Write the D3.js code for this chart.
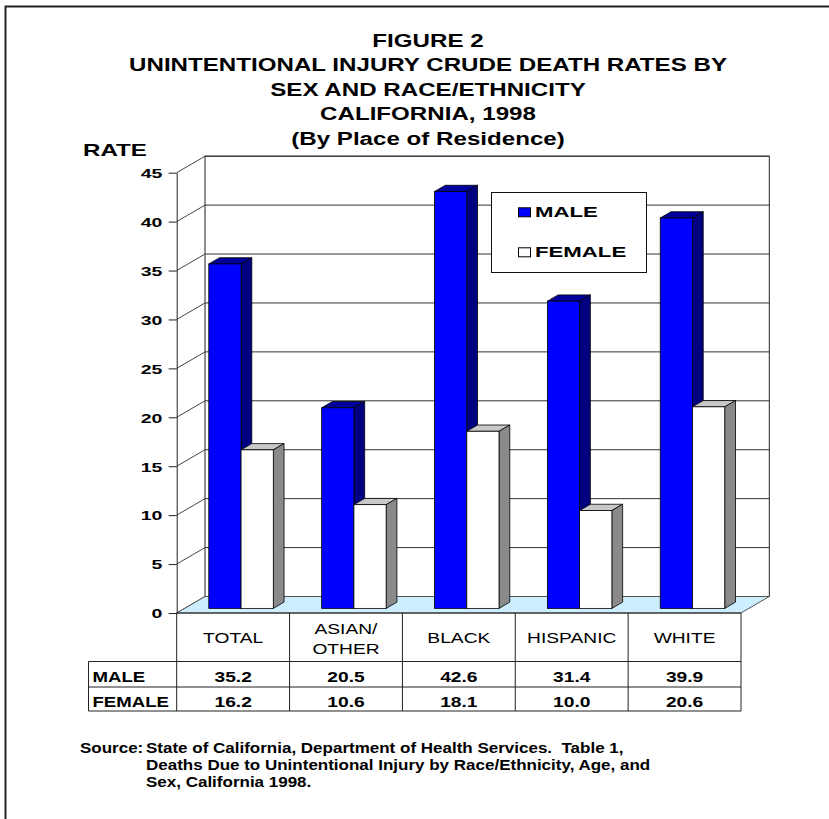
<!DOCTYPE html>
<html>
<head>
<meta charset="utf-8">
<script src="https://cdn.jsdelivr.net/npm/d3@7"></script>
<style>
body { margin: 0; background: #fff; }
svg { display: block; font-family: "Liberation Sans", Arial, Helvetica, sans-serif; }
</style>
</head>
<body>
<svg id="chart" width="829" height="819"></svg>
<script>
var titleLines = ["FIGURE 2", "UNINTENTIONAL INJURY CRUDE DEATH RATES BY", "SEX AND RACE/ETHNICITY", "CALIFORNIA, 1998", "(By Place of Residence)"]
var categories = ["TOTAL", "ASIAN/OTHER", "BLACK", "HISPANIC", "WHITE"]
var categoryLabels = [["TOTAL"], ["ASIAN/", "OTHER"], ["BLACK"], ["HISPANIC"], ["WHITE"]]
var series = ["MALE", "FEMALE"]
var maleRates = [35.2, 20.5, 42.6, 31.4, 39.9]
var femaleRates = [16.2, 10.6, 18.1, 10.0, 20.6]
var yTicks = [0, 5, 10, 15, 20, 25, 30, 35, 40, 45]
var sourceLabel = "Source:"
var sourceLines = ["State of California, Department of Health Services.  Table 1,", "Deaths Due to Unintentional Injury by Race/Ethnicity, Age, and", "Sex, California 1998."]

var ratesBySeries = { MALE: maleRates, FEMALE: femaleRates }
var seriesColors = {
    MALE: { front: "#0000FF", side: "#000080", top: "#00009C" },
    FEMALE: { front: "#FFFFFF", side: "#8A8A8A", top: "#C8C8C8" }
}

// layout of the pseudo 3d plot
var frontLeft = 176.7, frontRight = 741
var depthX = 28.3, depthY = 16.5
var barFront = 0.28, barBack = 0.66
var tableRowLeft = 88.5
var tableLines = [661.5, 687, 711]

var svg = d3.select("#chart")

var x = d3.scaleBand().domain(categories).range([frontLeft, frontRight])
var y = d3.scaleLinear().domain([0, 45]).range([613, 172.7])
var sub = d3.scaleBand().domain(series).range([0, x.bandwidth()]).paddingInner(0).paddingOuter(0.75)

function addText(parent, str, px, py, size, weight, anchor) {
    return parent.append("text")
        .attr("transform", "translate(" + px + "," + py + ")")
        .attr("font-size", size)
        .attr("font-weight", weight)
        .attr("text-anchor", anchor)
        .style("white-space", "pre")
        .text(str)
}

function stretch(sel, sx) {
    sel.each(function () {
        var t = d3.select(this)
        t.attr("transform", t.attr("transform") + " scale(" + sx + ",1)")
    })
}

function factorFor(sel, targetWidth) {
    return targetWidth / sel.node().getComputedTextLength()
}

function points(list) {
    return list.map(function (p) { return p.join(",") }).join(" ")
}

// frame
svg.append("rect")
    .attr("x", 5.5).attr("y", 6.5)
    .attr("width", 900).attr("height", 900)
    .attr("fill", "none")
    .attr("stroke", "#222")
    .attr("stroke-width", 2)

// walls and floor
var wallLeft = frontLeft + depthX, wallRight = frontRight + depthX
var plot = svg.append("g")

plot.append("rect")
    .attr("x", wallLeft).attr("y", y(45) - depthY)
    .attr("width", wallRight - wallLeft).attr("height", y(0) - y(45))
    .attr("fill", "#fff")
    .attr("stroke", "#222")

plot.selectAll(".grid").data(yTicks).join("line")
    .attr("class", "grid")
    .attr("x1", wallLeft).attr("x2", wallRight)
    .attr("y1", function (d) { return y(d) - depthY })
    .attr("y2", function (d) { return y(d) - depthY })
    .attr("stroke", "#333")

plot.selectAll(".side-grid").data(yTicks).join("line")
    .attr("class", "side-grid")
    .attr("x1", frontLeft).attr("y1", function (d) { return y(d) })
    .attr("x2", wallLeft).attr("y2", function (d) { return y(d) - depthY })
    .attr("stroke", "#444")

plot.append("polygon")
    .attr("points", points([[frontLeft, y(0)], [wallLeft, y(0) - depthY], [wallRight, y(0) - depthY], [frontRight, y(0)]]))
    .attr("fill", "#CCEEFF")
    .attr("stroke", "#555")

// y axis
var axis = plot.append("g")
    .attr("transform", "translate(" + frontLeft + ",0)")
    .call(d3.axisLeft(y).tickValues(yTicks).tickSize(8).tickSizeOuter(0))
axis.select(".domain").attr("stroke", "#222")
axis.selectAll(".tick line").attr("stroke", "#222")
axis.selectAll(".tick text")
    .attr("x", null).attr("dy", null)
    .attr("transform", "translate(-14.3,4.8) scale(1.5,1)")
    .attr("font-family", null)
    .attr("font-size", 13)
    .attr("font-weight", "bold")
    .attr("fill", "#000")

// bars
var barData = []
categories.forEach(function (c, i) {
    series.forEach(function (s) {
        barData.push({ category: c, series: s, value: ratesBySeries[s][i] })
    })
})

var ddx = (barBack - barFront) * depthX, ddy = (barBack - barFront) * depthY
var bars = plot.selectAll(".bar").data(barData).join("g").attr("class", "bar")

bars.each(function (d) {
    var g = d3.select(this)
    var bx = x(d.category) + sub(d.series) + barFront * depthX
    var w = sub.bandwidth()
    var base = y(0) - barFront * depthY
    var top = y(d.value) - barFront * depthY
    var col = seriesColors[d.series]

    g.append("polygon")
        .attr("points", points([[bx, top], [bx + ddx, top - ddy], [bx + w + ddx, top - ddy], [bx + w, top]]))
        .attr("fill", col.top).attr("stroke", "#000").attr("stroke-width", 0.8)
    g.append("polygon")
        .attr("points", points([[bx + w, top], [bx + w + ddx, top - ddy], [bx + w + ddx, base - ddy], [bx + w, base]]))
        .attr("fill", col.side).attr("stroke", "#000").attr("stroke-width", 0.8)
    g.append("rect")
        .attr("x", bx).attr("y", top)
        .attr("width", w).attr("height", base - top)
        .attr("fill", col.front).attr("stroke", "#000").attr("stroke-width", 0.8)
})

// legend
var legend = svg.append("g")
legend.append("rect")
    .attr("x", 491.5).attr("y", 192.5)
    .attr("width", 155).attr("height", 80)
    .attr("fill", "#fff").attr("stroke", "#111")

series.forEach(function (s, i) {
    var ly = 217.3 + i * 40
    legend.append("rect")
        .attr("x", 518.5).attr("y", ly - 9.5)
        .attr("width", 12).attr("height", 9)
        .attr("fill", seriesColors[s].front)
        .attr("stroke", "#000")
    var t = addText(legend, s, 535, ly, 15, "bold", "start")
    stretch(t, 1.48)
})

// data table under the plot
var table = svg.append("g")
table.append("line")
    .attr("x1", frontLeft).attr("x2", frontRight)
    .attr("y1", y(0)).attr("y2", y(0))
    .attr("stroke", "#222")
tableLines.forEach(function (ly) {
    table.append("line")
        .attr("x1", tableRowLeft).attr("x2", frontRight)
        .attr("y1", ly).attr("y2", ly)
        .attr("stroke", "#222")
})
categories.concat(["end"]).forEach(function (c) {
    var lx = c === "end" ? frontRight : x(c)
    table.append("line")
        .attr("x1", lx).attr("x2", lx)
        .attr("y1", y(0)).attr("y2", tableLines[2])
        .attr("stroke", "#222")
})
table.append("line")
    .attr("x1", tableRowLeft).attr("x2", tableRowLeft)
    .attr("y1", tableLines[0]).attr("y2", tableLines[2])
    .attr("stroke", "#222")

var tableSx = 1.24
categories.forEach(function (c, i) {
    var cx = x(c) + x.bandwidth() / 2
    var lines = categoryLabels[i]
    lines.forEach(function (line, k) {
        var ly = lines.length === 1 ? 643 : 633.5 + k * 20
        stretch(addText(table, line, cx, ly, 15.5, "normal", "middle"), tableSx)
    })
    series.forEach(function (s, k) {
        stretch(addText(table, d3.format(".1f")(ratesBySeries[s][i]), cx, 682 + k * 25, 15.5, "bold", "middle"), tableSx)
    })
})
series.forEach(function (s, k) {
    stretch(addText(table, s, tableRowLeft + 4, 682 + k * 25, 15.5, "bold", "start"), 1.2)
})

// titles
var titles = titleLines.map(function (line, i) {
    return addText(svg, line, 428, 46.5 + i * 24.5, 18.5, "bold", "middle")
})
var titleSx = factorFor(titles[1], 598)
titles.forEach(function (t) { stretch(t, titleSx) })

var rate = addText(svg, "RATE", 83, 155.5, 16, "bold", "start")
stretch(rate, factorFor(rate, 64))

// source note
var src = addText(svg, sourceLabel, 80, 753, 14, "bold", "start")
var srcLines = sourceLines.map(function (line, i) {
    return addText(svg, line, 146, 753 + i * 17, 14, "bold", "start")
})
var srcSx = factorFor(srcLines[0], 478)
stretch(src, srcSx)
srcLines.forEach(function (t) { stretch(t, srcSx) })
</script>
</body>
</html>
